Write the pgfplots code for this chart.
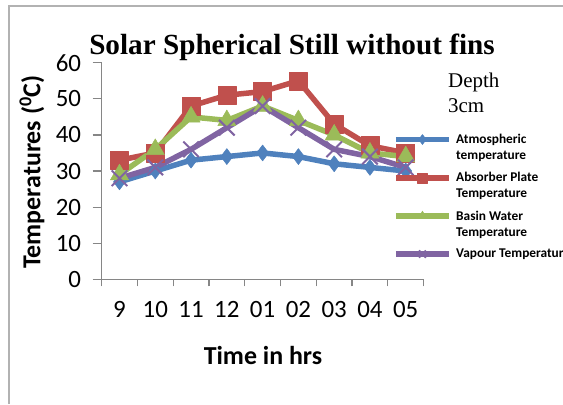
\documentclass[border=0pt]{standalone}
\usepackage{pgfplots}
\pgfplotsset{compat=1.18}
\usepackage{fontspec}
\setmainfont{Carlito}
\newfontfamily\timesfont{Liberation Serif}
\definecolor{cblue}{HTML}{4F81BD}
\definecolor{cred}{HTML}{C0504D}
\definecolor{cgreen}{HTML}{9BBB59}
\definecolor{cpurple}{HTML}{8064A2}
\definecolor{axgray}{HTML}{868686}
\pgfplotsset{
  twoline/.style={legend image code/.code={\draw[mark repeat=2,mark phase=2,##1,mark size=5bp] plot coordinates {(0bp,8bp) (26.5bp,8bp) (53bp,8bp)};}},
  oneline/.style={legend image code/.code={\draw[mark repeat=2,mark phase=2,##1,mark size=5bp] plot coordinates {(0bp,0bp) (26.5bp,0bp) (53bp,0bp)};}},
}
\begin{document}
\begin{tikzpicture}[x=1bp,y=1bp]
\path[use as bounding box] (0,0) rectangle (563,-404);
\draw[color=gray!60, line width=1.3bp] (9,-404) -- (9,-6) -- (563,-6);
\begin{axis}[
  at={(101.6bp,-279.3bp)}, anchor=south west,
  scale only axis, width=322bp, height=216.6bp,
  xmin=-0.5, xmax=8.5, ymin=0, ymax=60,
  axis lines=left,
  axis line style={draw=axgray, line width=1.2bp, -},
  ytick={0,10,...,60},
  xtick={0,...,8},
  xticklabels={9,10,11,12,01,02,03,04,05},
  minor xtick={-0.5,0.5,...,8.5},
  major x tick style={draw=none},
  tick align=outside,
  major tick length=9bp,
  minor tick length=7bp,
  tick style={draw=axgray, line width=1.2bp},
  ticklabel style={font=\fontsize{25}{29}\selectfont},
  /pgf/number format/assume math mode=true,
  xticklabel style={yshift=-10bp},
  yticklabel style={xshift=-8bp},
  line join=round,
  legend cell align=left,
  legend style={draw=none, fill=none, at={(0.905,0.6805)}, anchor=north west,
    inner sep=0pt, row sep=7.5bp, column sep=2.5bp,
    font=\bfseries\fontsize{13.4}{16}\selectfont,
    nodes={align=left, inner sep=2bp}},
]
\addplot[twoline, color=cblue, line width=5.5bp, mark=diamond*, mark size=8bp, mark options={solid, fill=cblue, draw=cblue, line width=0.5bp}]
  coordinates {(0,27) (1,30) (2,33) (3,34) (4,35) (5,34) (6,32) (7,31) (8,30)};
\addlegendentry{Atmospheric\\temperature}
\addplot[twoline, color=cred, line width=5.5bp, mark=square*, mark size=9bp, mark options={solid, fill=cred, draw=cred, line width=0.5bp}]
  coordinates {(0,33) (1,35) (2,48) (3,51) (4,52) (5,55) (6,43) (7,37) (8,35)};
\addlegendentry{Absorber Plate\\Temperature}
\addplot[twoline, color=cgreen, line width=5.5bp, mark=triangle*, mark size=10.5bp, mark options={solid, fill=cgreen, draw=cgreen, line width=0.5bp}]
  coordinates {(0,29) (1,36) (2,45) (3,44) (4,48) (5,44) (6,40) (7,35) (8,34)};
\addlegendentry{Basin Water\\Temperature}
\addplot[oneline, color=cpurple, line width=5.5bp, mark=x, mark size=11bp, mark options={solid, draw=cpurple, line width=2bp}]
  coordinates {(0,28) (1,31) (2,36) (3,42) (4,48) (5,42) (6,36) (7,34) (8,31)};
\addlegendentry{Vapour Temperature}
\end{axis}
\node[anchor=base, font=\timesfont\bfseries\fontsize{29.3}{32}\selectfont, inner sep=0pt] at (292,-54) {Solar Spherical Still without fins};
\node[anchor=center, font=\bfseries\fontsize{26}{30}\selectfont, inner sep=0pt] at (263,-355) {Time in hrs};
\node[anchor=center, rotate=90, font=\bfseries\fontsize{26}{30}\selectfont, inner sep=0pt] at (32,-172) {Temperatures ($^{\mathbf{0}}$C)};
\node[anchor=base west, font=\timesfont\fontsize{21}{25}\selectfont, inner sep=0pt] at (448,-87) {Depth};
\node[anchor=base west, font=\timesfont\fontsize{21}{25}\selectfont, inner sep=0pt] at (448,-112) {3cm};
\end{tikzpicture}
\end{document}
